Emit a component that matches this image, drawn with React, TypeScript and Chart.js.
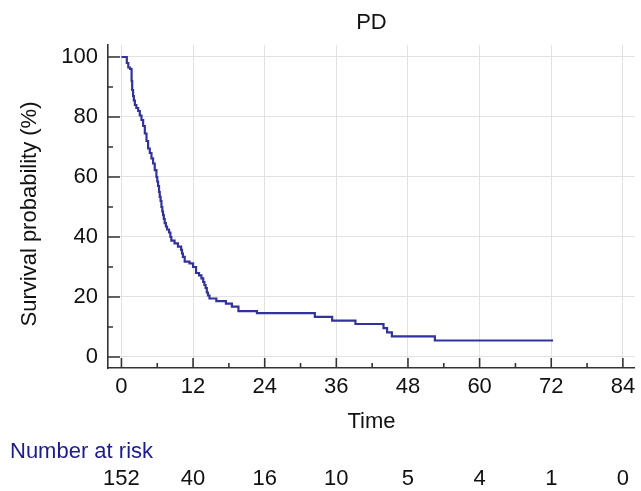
import React, { useEffect, useRef } from 'react';
import { Chart, registerables } from 'chart.js';

Chart.register(...registerables);

const chartTitle = 'PD';
const xAxisTitle = 'Time';
const yAxisTitle = 'Survival probability (%)';

// Kaplan-Meier step points: time at which survival drops to the given value
const timePoints = [
  0, 0.9, 1.15, 1.45, 1.7, 1.8, 1.95, 2.08, 2.25, 2.5, 2.8, 3.08, 3.36, 3.64, 3.92,
  4.2, 4.47, 4.75, 5.03, 5.3, 5.58, 5.86, 6.0, 6.14, 6.3, 6.42, 6.56, 6.7, 6.85,
  6.97, 7.1, 7.25, 7.45, 7.64, 7.97, 8.2, 8.36, 8.9, 9.47, 10.0, 10.15, 10.3, 10.6,
  11.4, 12.0, 12.5, 13.0, 13.4, 13.7, 13.9, 14.1, 14.3, 14.5, 14.75, 15.9, 17.5,
  18.5, 19.6, 22.7, 32.4, 35.3, 39.2, 43.9, 44.5, 45.3, 52.5, 72.3,
];
const survival = [
  100, 98, 96.5, 96, 92, 89, 87, 85.5, 84, 83, 82, 80.5, 79, 77, 74.5,
  72, 69.5, 68, 66.2, 64.5, 62.3, 60, 58.5, 57, 55, 53.4, 52, 50, 48.5,
  47.3, 46, 44.6, 43.5, 42.5, 41.5, 40, 38.8, 37.9, 36.8, 35.7, 34.5, 33.4, 31.8,
  31.2, 30, 28, 27.2, 26.2, 25, 24, 23, 21.5, 20.5, 19.5, 18.6, 17.8,
  16.8, 15.3, 14.6, 13.4, 12.1, 11.0, 9.6, 8.2, 6.9, 5.5, 5.5,
];

const xTickValues = [0, 12, 24, 36, 48, 60, 72, 84];
const xMinorTickValues = [6, 18, 30, 42, 54, 66, 78];
const yTickValues = [0, 20, 40, 60, 80, 100];
const yMinorTickValues = [10, 30, 50, 70, 90];

const atRiskLabel = 'Number at risk';
const atRiskTimes = [0, 12, 24, 36, 48, 60, 72, 84];
const atRiskCounts = [152, 40, 16, 10, 5, 4, 1, 0];

const FONT = "'Liberation Sans', Arial, Helvetica, sans-serif";
const FS = 22;

export default function App() {
  const canvasRef = useRef<HTMLCanvasElement | null>(null);

  useEffect(() => {
    document.body.style.margin = '0';
    const canvas = canvasRef.current;
    if (!canvas) return;

    const decor = {
      id: 'decor',
      afterDraw(chart: any) {
        const { ctx, chartArea } = chart;
        const xs = chart.scales.x;
        const ys = chart.scales.y;
        ctx.save();
        ctx.strokeStyle = '#333333';
        ctx.lineWidth = 1.6;
        const bottom = chartArea.bottom;
        const left = chartArea.left;
        ctx.beginPath();
        xTickValues.forEach((v) => {
          const px = xs.getPixelForValue(v);
          ctx.moveTo(px, bottom);
          ctx.lineTo(px, bottom - 10);
        });
        xMinorTickValues.forEach((v) => {
          const px = xs.getPixelForValue(v);
          ctx.moveTo(px, bottom);
          ctx.lineTo(px, bottom - 5);
        });
        yTickValues.forEach((v) => {
          const py = ys.getPixelForValue(v);
          ctx.moveTo(left, py);
          ctx.lineTo(left + 12, py);
        });
        yMinorTickValues.forEach((v) => {
          const py = ys.getPixelForValue(v);
          ctx.moveTo(left, py);
          ctx.lineTo(left + 5, py);
        });
        ctx.stroke();

        ctx.fillStyle = '#111111';
        ctx.font = `${FS}px ${FONT}`;
        ctx.textAlign = 'center';
        ctx.textBaseline = 'middle';
        // Title
        ctx.fillText(chartTitle, (chartArea.left + chartArea.right) / 2, 23);

        // Y axis title
        ctx.save();
        ctx.translate(30, 214);
        ctx.rotate(-Math.PI / 2);
        ctx.fillText(yAxisTitle, 0, 0);
        ctx.restore();

        // Number at risk
        ctx.fillStyle = '#1c1c8c';
        ctx.textAlign = 'left';
        ctx.fillText(atRiskLabel, 10, 452);
        ctx.fillStyle = '#111111';
        ctx.textAlign = 'center';
        atRiskTimes.forEach((t, i) => {
          ctx.fillText(String(atRiskCounts[i]), xs.getPixelForValue(t), 479);
        });
        ctx.restore();
      },
    };

    const chart = new Chart(canvas, {
      type: 'line',
      data: {
        datasets: [
          {
            data: timePoints.map((t, i) => ({ x: t, y: survival[i] })),
            borderColor: '#32329b',
            borderWidth: 2.2,
            pointRadius: 0,
            stepped: true,
            fill: false,
          },
        ],
      },
      options: {
        animation: false,
        responsive: false,
        devicePixelRatio: 1,
        layout: { padding: { top: 45, right: 3.5, left: 0, bottom: 0 } },
        plugins: {
          legend: { display: false },
          tooltip: { enabled: false },
          title: { display: false },
        },
        scales: {
          x: {
            type: 'linear',
            min: -2.25,
            max: 86,
            afterBuildTicks: (scale: any) => {
              scale.ticks = xTickValues.map((v) => ({ value: v }));
            },
            afterFit: (scale: any) => {
              scale.height = 123;
            },
            grid: { color: '#e2e2e2', lineWidth: 1, drawTicks: false },
            border: { color: '#333333', width: 1.6 },
            ticks: {
              font: { family: FONT, size: FS },
              color: '#111111',
              padding: 5.8,
              maxRotation: 0,
              autoSkip: false,
            },
            title: {
              display: true,
              text: xAxisTitle,
              font: { family: FONT, size: FS },
              color: '#111111',
              padding: { top: 0, bottom: 55.8 },
            },
          },
          y: {
            type: 'linear',
            min: -3.67,
            max: 104,
            afterBuildTicks: (scale: any) => {
              scale.ticks = yTickValues.map((v) => ({ value: v }));
            },
            afterFit: (scale: any) => {
              scale.width = 108;
            },
            grid: { color: '#e2e2e2', lineWidth: 1, drawTicks: false },
            border: { color: '#333333', width: 1.6 },
            ticks: {
              font: { family: FONT, size: FS },
              color: '#111111',
              padding: 10,
              autoSkip: false,
            },
            title: { display: false },
          },
        },
      },
      plugins: [decor],
    });

    return () => {
      chart.destroy();
    };
  }, []);

  return (
    <div style={{ width: 641, height: 491, position: 'relative', background: '#ffffff' }}>
      <canvas ref={canvasRef} width={641} height={491} style={{ display: 'block' }} />
    </div>
  );
}
